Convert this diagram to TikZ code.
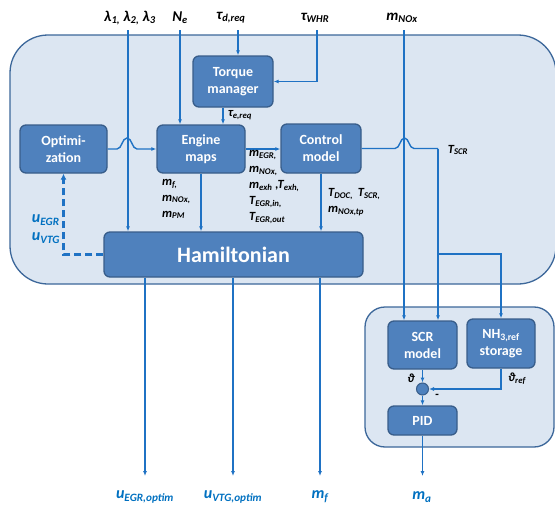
\documentclass[tikz,border=0pt]{standalone}
\usepackage{fontspec}
\setmainfont{Carlito}
\usetikzlibrary{arrows.meta}
\definecolor{bgfill}{HTML}{DCE6F2}
\definecolor{bgline}{HTML}{3C679A}
\definecolor{boxfill}{HTML}{4F81BD}
\definecolor{boxline}{HTML}{385D8A}
\definecolor{wirec}{HTML}{1F72C4}
\definecolor{outc}{HTML}{0070C0}
\newcommand\sbs[1]{\textsubscript{#1}}
\begin{document}
\begin{tikzpicture}[x=1pt,y=-1pt,
  bigbox/.style={draw=bgline, line width=1.3pt, fill=bgfill},
  box/.style={draw=boxline, line width=1.3pt, fill=boxfill, rounded corners=6pt, text=white,
    font=\fontsize{14}{17}\selectfont\bfseries, align=center, inner sep=0pt},
  conn/.style={draw=wirec, line width=1.4pt, -{Latex[length=5pt,width=4pt]}},
  wire/.style={draw=wirec, line width=1.4pt},
  dconn/.style={draw=wirec, line width=2.6pt, dash pattern=on 7pt off 4pt, -{Latex[length=6pt,width=6pt]}},
  lbl/.style={font=\fontsize{12.5}{16}\selectfont\bfseries\itshape, align=left, inner sep=0pt},
  toplbl/.style={font=\fontsize{15}{17}\selectfont\bfseries\itshape, inner sep=0pt},
  olbl/.style={font=\fontsize{16}{18}\selectfont\bfseries\itshape, text=outc, inner sep=0pt}]
\useasboundingbox (0,0) rectangle (555,506);

% background panels
\draw[bigbox, rounded corners=38pt] (10,35) rectangle (556,284);
\draw[bigbox, rounded corners=20pt] (365,307) rectangle (554,447);

% boxes
\node[box, minimum width=80pt, minimum height=51pt] (tm) at (233,81.5) {Torque\\manager};
\node[box, minimum width=88pt, minimum height=48pt] (em) at (201,149) {Engine\\maps};
\node[box, minimum width=87pt, minimum height=48pt] (opt) at (63.5,149) {Optimi-\\zation};
\node[box, minimum width=80pt, minimum height=49pt] (cm) at (321,148.5) {Control\\model};
\node[box, minimum width=259pt, minimum height=45pt, font=\fontsize{22}{24}\selectfont\bfseries] (ham) at (233.5,254.5) {Hamiltonian};
\node[box, minimum width=69pt, minimum height=48pt] (scr) at (422.5,345) {SCR\\model};
\node[box, minimum width=68pt, minimum height=49pt] (nh3) at (501,343.5) {NH\sbs{3,ref}\\storage};
\node[box, minimum width=69pt, minimum height=29pt] (pid) at (422.5,420.5) {PID};
\node[circle, draw=boxline, fill=boxfill, line width=1pt, minimum size=12pt, inner sep=0pt] (sum) at (422.5,389) {};

% top inputs
\node[toplbl] (lam) at (130,18) {λ\sbs{1,} λ\sbs{2,} λ\sbs{3}};
\node[toplbl] (ne) at (180,18) {N\sbs{e}};
\node[toplbl] (tdr) at (231,18) {τ\sbs{d,req}};
\node[toplbl] (twhr) at (315,18) {τ\sbs{WHR}};
\node[toplbl] (mnox) at (402,18) {m\sbs{NOx}};
\coordinate (inL) at (128,30);
\coordinate (inN) at (180,30);
\coordinate (inT) at (238,30);
\coordinate (inW) at (317,30);
\coordinate (inM) at (404,30);

\draw[conn] (inL) -- (inL |- ham.north);
\draw[conn] (inN) -- (inN |- em.north);
\draw[conn] (inT) -- (inT |- tm.north);
\draw[conn] (inW) |- (tm.east);
\draw[conn] (inM) -- (inM |- scr.north);
\draw[conn] ([xshift=-10pt]tm.south) -- ([xshift=-10pt]tm.south |- em.north);

% optimization -> engine maps with hop
\draw[conn] (opt.east) -- (117,149) .. controls (122,149) and (122,138) .. (127,138)
  .. controls (132,138) and (132,149) .. (137,149) -- (em.west);
\draw[conn] (em.east) -- (em.east -| cm.west);

% control model -> SCR with hop
\coordinate (tj) at (438,148.5);
\coordinate (br) at (438,254);
\draw[wire] (cm.east) -- (395,148.5) .. controls (400,148.5) and (400,138) .. (404.5,138)
  .. controls (409,138) and (409,148.5) .. (414,148.5) -- (tj);
\draw[conn] (tj) -- (tj |- scr.north);
\draw[conn] (br) -| (nh3.north);

\draw[conn] (em.south) -- (em.south |- ham.north);
\draw[conn] (cm.south) -- (cm.south |- ham.north);

% dashed feedback
\draw[dconn] (ham.west) -| (opt.south);

% outputs
\coordinate (o1) at (145,476);
\coordinate (o2) at (233,476);
\coordinate (o3) at (320,476);
\coordinate (o4) at (422.5,476);
\draw[conn] (ham.south -| o1) -- (o1);
\draw[conn] (ham.south -| o2) -- (o2);
\draw[conn] (ham.south -| o3) -- (o3);
\draw[conn] (pid.south) -- (o4);

% SCR loop
\draw[conn] (scr.south) -- (sum.north);
\draw[conn] (nh3.south) |- (sum.east);
\draw[conn] (sum.south) -- (pid.north);

% labels
\node[lbl] (tereq) at (240,115) {τ\sbs{e,req}};
\node[lbl, anchor=west] (lem) at (162,199) {m\sbs{f,}\\m\sbs{NOx,}\\m\sbs{PM}};
\node[lbl, anchor=north west] (lcm) at (249,150) {m\sbs{EGR,}\\m\sbs{NOx,}\\m\sbs{exh} ,T\sbs{exh,}\\T\sbs{EGR,in,}\\T\sbs{EGR,out}};
\node[lbl, anchor=west] (ldoc) at (328,202) {T\sbs{DOC,} \,T\sbs{SCR,}\\m\sbs{NOx,tp}};
\node[lbl] (ltscr) at (458,150) {T\sbs{SCR}};
\node[olbl, align=left] (luu) at (46,229) {u\sbs{EGR}\\u\sbs{VTG}};
\node[lbl] (lth) at (411,378) {ϑ};
\node[lbl] (lthr) at (517,379) {ϑ\sbs{ref}};
\node[lbl] (lminus) at (437,396) {-};

\node[olbl] (out1) at (145,497) {u\sbs{EGR,optim}};
\node[olbl] (out2) at (233,497) {u\sbs{VTG,optim}};
\node[olbl] (out3) at (320,497) {m\sbs{f}};
\node[olbl] (out4) at (422,497) {m\sbs{a}};
\end{tikzpicture}
\end{document}
